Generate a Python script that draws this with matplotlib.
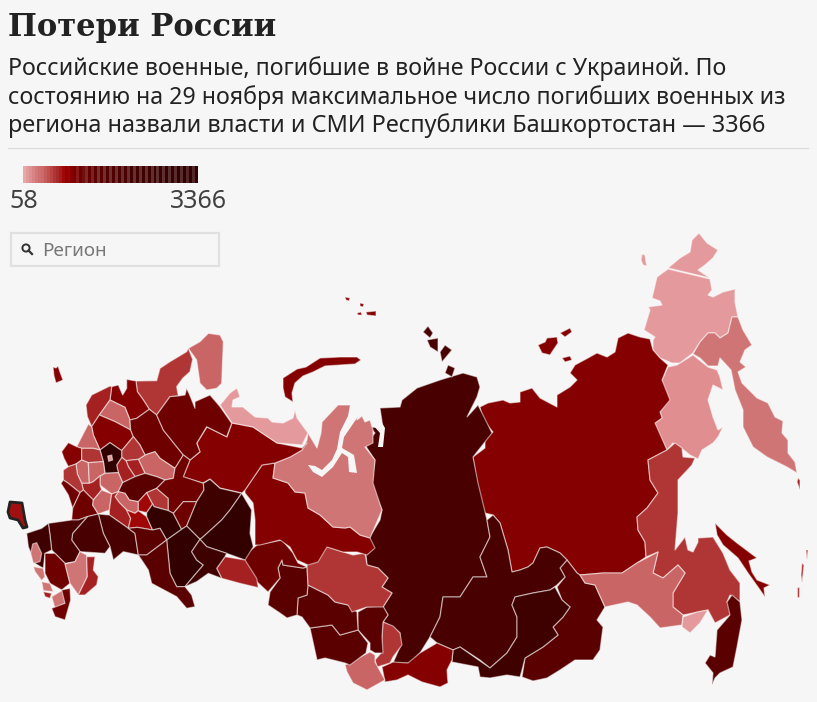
"""
plot.py - Russian military losses by region, choropleth drawn from hand-traced outlines.
Eastern outlines are in picture pixels. European ones were traced on a 3x crop whose
top sits at y=320, and are scaled back when drawn.
"""
import matplotlib
matplotlib.use("Agg")
import matplotlib.pyplot as plt
from matplotlib.patches import Rectangle, Circle

# ── Text ──────────────────────────────────────────────────────────────────────
TITLE = "Потери России"
SUBTITLE = [
    "Российские военные, погибшие в войне России с Украиной. По",
    "состоянию на 29 ноября максимальное число погибших военных из",
    "региона назвали власти и СМИ Республики Башкортостан — 3366",
]
LEGEND_MIN = "58"
LEGEND_MAX = "3366"
SEARCH_HINT = "Регион"

# ── Legend stripes, light to dark ─────────────────────────────────────────────
LEGEND_STRIPES = [
    "#e8a8a8", "#e29a9a", "#dd9090", "#d88484", "#d37878", "#cf7070", "#cb6a6a", "#c55c5c",
    "#c05050", "#b84444", "#b03636", "#a92a2a", "#a41c1c", "#a00808", "#8f0000", "#a00000",
    "#850000", "#7a0000", "#8a1818", "#700000", "#6f1010", "#802828", "#660000", "#782222",
    "#5f0000", "#743030", "#5a0000", "#703030", "#550000", "#6e3030", "#500000", "#6c3030",
    "#4c0000", "#6a2c2c", "#480000", "#682e2e", "#440000", "#663030", "#420000", "#643030",
    "#400000", "#623030", "#3c0000", "#603030", "#3a0000", "#5e3030", "#380000", "#5c3030",
    "#360000", "#5a3030", "#340000", "#582c2c", "#330000", "#562c2c", "#330000", "#542828",
    "#330000", "#522828", "#330000",
]

# ── Shades ────────────────────────────────────────────────────────────────────
S1 = "#e49a9c"; S2 = "#e08e90"; S3 = "#d07575"; S4 = "#c96565"; S5 = "#b03636"
S6 = "#a52020"; S6B = "#a00808"; S7 = "#850000"; S8 = "#6f0000"; S9 = "#5a0000"
S10 = "#480000"; S11 = "#3f0000"; S12 = "#330000"

# ── Far east (pixels) ─────────────────────────────────────────────────────────
CHUKOTKA_N = [(668,268),(680,258),(690,252),(692,240),(699,233),(707,243),(718,250),(713,258),(705,265),(698,270),(710,278)]
CHUKOTKA = [(710,279),(712,290),(708,295),(713,297),(723,292),(735,289),(735,302),(738,317),(732,317),(728,333),(720,338),(715,333),(708,333),(700,342),(693,353),(680,363),(672,363),(660,358),(653,350),(653,340),(655,337),(644,330),(650,310),(648,307),(662,305),(660,301),(652,298),(657,277),(668,269)]
WRANGEL = [(642,254),(645,255),(646,262),(647,266),(643,265),(641,260)]
KAMCHATKA = [(732,317),(738,317),(743,330),(752,345),(745,350),(740,362),(746,367),(738,372),(742,383),(757,398),(768,403),(775,417),(783,421),(782,433),(788,440),(788,453),(795,462),(797,473),(787,467),(767,457),(753,447),(743,427),(743,410),(735,390),(731,370),(720,358),(718,366),(708,366),(700,358),(693,354),(700,342),(708,333),(715,333),(720,338),(728,333)]
MAGADAN = [(693,355),(708,367),(717,370),(720,377),(723,390),(713,385),(708,400),(713,417),(718,430),(723,427),(718,437),(713,443),(702,450),(698,459),(690,455),(680,447),(673,443),(667,450),(662,440),(657,432),(655,423),(662,418),(660,412),(668,400),(663,387),(662,380),(668,367),(677,365)]
YAKUTIA = [(480,407),(488,403),(503,400),(510,403),(520,402),(520,392),(532,388),(540,398),(557,407),(557,395),(570,387),(577,380),(570,373),(575,365),(588,358),(597,353),(607,357),(615,352),(618,338),(628,333),(640,337),(650,339),(653,350),(660,358),(668,365),(662,380),(670,400),(660,412),(662,418),(655,423),(667,450),(648,460),(650,480),(658,493),(647,508),(637,517),(638,530),(645,542),(646,557),(637,563),(622,573),(603,573),(580,575),(577,573),(567,560),(560,553),(547,547),(540,548),(533,563),(528,567),(520,570),(512,572),(508,550),(500,523),(493,515),(485,513),(478,500),(477,483),(473,457),(485,448),(485,438),(493,432),(483,420)]
ZABAYKALSKY = [(567,560),(577,573),(580,575),(585,583),(595,585),(605,607),(597,620),(603,627),(600,650),(593,660),(575,660),(560,670),(547,678),(533,681),(522,677),(525,658),(543,647),(558,635),(553,627),(563,617),(570,607),(562,600),(557,587),(565,577),(560,568)]
AMUR = [(580,575),(603,573),(622,573),(637,563),(658,552),(653,573),(663,578),(678,565),(685,573),(673,593),(673,607),(683,615),(682,625),(660,628),(650,617),(637,605),(628,602),(605,607),(595,585),(585,583)]
KHABAROVSK = [(648,460),(667,450),(675,443),(682,448),(683,457),(695,458),(692,465),(678,480),(678,513),(675,550),(685,537),(688,550),(693,552),(698,542),(698,538),(713,537),(723,553),(730,570),(740,583),(740,602),(730,595),(727,602),(732,603),(730,615),(715,623),(708,610),(683,615),(673,607),(673,593),(685,573),(678,565),(663,578),(653,573),(658,552),(646,557),(645,542),(638,530),(637,517),(647,508),(658,493),(650,480)]
JEWISH_AO = [(683,617),(697,612),(708,610),(700,623),(690,633),(682,627)]
PRIMORYE = [(732,595),(740,602),(742,620),(737,647),(733,667),(720,673),(715,678),(712,685),(713,673),(705,663),(710,655),(715,657),(717,630),(730,615),(727,602)]
SAKHALIN = [(715,523),(719,527),(727,535),(737,543),(757,558),(749,561),(752,572),(757,580),(770,585),(764,588),(765,597),(758,587),(748,573),(738,558),(723,545),(717,535)]
KURIL_A = [(798,478),(800,480),(800,490),(797,482)]
KURIL_B = [(802,563),(804,565),(802,583),(801,575)]
KURIL_C = [(806,550),(808,550),(807,560)]
KURIL_D = [(797,587),(799,587),(799,597),(797,597)]
NSI_A = [(538,345),(545,342),(547,338),(557,337),(558,343),(550,355),(542,353)]
NSI_B = [(560,333),(570,328),(572,332),(565,337)]
NSI_C = [(562,358),(570,356),(572,360),(565,362)]

# ── Siberia (pixels) ──────────────────────────────────────────────────────────
KRASNOYARSK = [(380,408),(400,407),(402,400),(417,388),(440,380),(463,373),(477,377),(480,387),(477,397),(467,417),(478,405),(487,423),(492,433),(473,457),(478,483),(487,520),(490,537),(480,557),(487,577),(473,577),(460,597),(443,597),(440,617),(430,637),(420,653),(410,663),(393,663),(400,647),(400,633),(393,627),(383,622),(388,615),(383,607),(392,593),(382,587),(388,578),(378,568),(367,565),(366,555),(373,549),(368,540),(380,520),(382,510),(375,493),(372,483),(375,460),(365,445),(375,433),(370,427),(383,428)]
SEV_ZEMLYA_A = [(423,332),(428,326),(433,333),(430,338)]
SEV_ZEMLYA_B = [(427,340),(438,338),(438,352),(430,347)]
SEV_ZEMLYA_C = [(440,352),(445,345),(452,350),(442,362)]
SEV_ZEMLYA_D = [(445,373),(448,365),(455,368),(452,377)]
IRKUTSK = [(487,520),(493,515),(500,523),(508,550),(512,572),(520,570),(528,567),(533,563),(540,548),(547,547),(560,553),(567,560),(560,568),(565,577),(557,585),(550,590),(533,593),(515,597),(512,605),(517,617),(517,637),(507,653),(490,668),(480,660),(460,647),(453,650),(437,643),(430,637),(440,617),(443,597),(460,597),(473,577),(487,577),(480,557),(490,537)]
BURYATIA = [(515,597),(533,593),(550,590),(555,587),(562,600),(570,607),(563,617),(553,627),(558,635),(543,647),(525,658),(522,670),(520,677),(507,675),(490,678),(480,677),(478,667),(452,662),(453,650),(460,647),(490,668),(507,653),(517,637),(517,617),(512,605)]
TUVA = [(382,667),(393,662),(408,663),(420,653),(437,643),(453,650),(452,660),(447,670),(448,683),(440,687),(422,682),(408,675),(397,680),(385,682)]
KHAKASSIA = [(383,622),(393,626),(400,633),(402,645),(393,657),(390,663),(377,667),(375,660),(382,652),(382,637)]
ALTAI_REP = [(345,665),(370,652),(375,655),(375,662),(385,680),(367,690),(353,683),(347,672)]
KEMEROVO = [(358,612),(367,607),(383,606),(388,615),(383,622),(382,637),(383,653),(375,653),(370,650),(370,643),(358,630)]
ALTAI_KRAI = [(310,628),(332,625),(340,635),(358,630),(368,643),(366,653),(350,665),(345,663),(325,658),(317,660)]
NOVOSIBIRSK = [(308,585),(328,595),(335,602),(348,605),(357,612),(358,630),(340,635),(332,625),(310,628),(302,617),(297,615),(298,598),(307,595)]
OMSK = [(282,560),(283,565),(303,568),(307,567),(308,585),(307,595),(298,598),(297,615),(287,618),(280,613),(268,605),(270,592),(280,578),(278,568)]
TYUMEN = [(245,555),(257,545),(282,540),(293,553),(298,563),(307,567),(303,568),(283,565),(282,560),(278,568),(280,578),(268,592),(255,580),(242,560)]
TOMSK = [(325,546),(337,550),(353,555),(365,553),(367,565),(378,568),(388,578),(382,587),(392,593),(383,607),(367,607),(352,612),(348,605),(335,602),(328,595),(308,585),(307,565),(315,558)]
KHANTY_MANSI = [(245,490),(262,465),(275,463),(273,478),(288,483),(295,492),(305,493),(308,508),(320,515),(333,527),(345,528),(350,527),(360,535),(370,538),(375,548),(367,555),(357,552),(343,552),(327,547),(318,562),(308,565),(297,560),(290,547),(280,540),(260,545),(255,545),(255,520),(253,503),(245,493)]
YAMAL = [(275,463),(290,457),(302,450),(307,440),(308,433),(317,448),(321,433),(322,422),(338,405),(350,405),(358,410),(357,420),(362,416),(365,422),(370,420),(373,430),(373,443),(365,447),(375,460),(373,483),(382,510),(370,538),(360,535),(350,527),(345,528),(333,527),(320,515),(308,508),(305,493),(295,492),(288,483),(273,478)]
OB_GULF = [(350,405),(348,416),(340,432),(337,449),(332,460),(322,470),(315,466),(308,465),(313,472),(322,477),(333,467),(342,453),(348,457),(349,472),(357,473),(354,455),(342,448),(344,437),(357,418),(360,407)]
YENISEI_GULF = [(377,418),(382,423),(385,428),(383,447),(378,447),(380,433),(373,425)]

# ── North (pixels) ────────────────────────────────────────────────────────────
NOVAYA_ZEMLYA = [(283,378),(297,369),(306,367),(320,358),(340,357),(357,357),(361,360),(355,364),(340,365),(325,366),(313,372),(303,376),(295,383),(292,393),(293,402),(285,397),(283,388)]
FRANZ_A = [(357,313),(361,312),(362,315),(358,315)]
FRANZ_B = [(366,312),(376,311),(376,316),(367,315)]
FRANZ_C = [(345,297),(350,298),(349,301),(346,300)]
FRANZ_D = [(360,303),(364,304),(363,307),(360,306)]
KOMI = [(183,477),(190,460),(200,452),(197,443),(207,427),(227,437),(232,423),(253,427),(277,443),(302,448),(307,443),(302,450),(290,457),(275,463),(262,465),(245,490),(242,493),(220,488),(210,479),(203,483)]
NENETS = [(220,405),(230,393),(237,388),(240,397),(233,400),(232,407),(243,407),(255,417),(268,418),(272,422),(283,423),(293,418),(295,410),(297,418),(308,433),(302,445),(277,443),(253,427),(232,423)]
KALININGRAD = [(53,367),(56,368),(58,366),(60,372),(63,380),(56,383),(54,376)]
CRIMEA = [(10,502),(22,503),(25,520),(27,527),(23,528),(18,520),(10,518),(8,512)]

# ── European Russia (3x crop coordinates) ─────────────────────────────────────
MURMANSK = [(565,85),(600,65),(625,40),(660,45),(670,65),(665,190),(650,205),(620,210),(600,190),(590,120)]
KARELIA = [(408,183),(470,182),(480,145),(510,125),(560,95),(565,85),(578,118),(570,155),(548,175),(530,200),(535,228),(510,230),(470,285),(448,268),(430,240),(412,215)]
LENINGRAD = [(335,200),(355,195),(368,225),(380,205),(380,178),(408,183),(412,215),(430,240),(448,268),(410,295),(390,300),(375,262),(330,240)]
PSKOV = [(258,255),(275,225),(330,198),(335,200),(330,240),(298,285),(275,320),(262,290)]
NOVGOROD = [(298,285),(330,240),(375,262),(390,300),(392,330),(345,305)]
TVER = [(275,320),(298,285),(345,305),(392,330),(400,350),(365,392),(330,368),(300,390),(280,345)]
SMOLENSK = [(230,380),(265,312),(275,320),(280,345),(300,390),(280,385),(245,385)]
BELARUS_EDGE = [(185,395),(205,368),(230,380),(245,385),(245,420),(228,432),(205,440),(192,415)]
VOLOGDA = [(390,300),(410,295),(448,268),(470,285),(490,330),(550,405),(525,445),(480,415),(465,395),(435,405),(420,375),(400,350),(392,330)]
ARKHANGELSK = [(470,285),(510,230),(535,228),(555,225),(560,205),(572,232),(585,265),(585,245),(630,225),(660,260),(695,310),(680,350),(620,320),(590,370),(600,395),(570,420),(550,405),(490,330)]
KOSTROMA = [(415,418),(435,405),(465,395),(480,415),(525,445),(520,475),(495,480),(470,470),(435,460)]
YAROSLAVL = [(365,392),(400,350),(420,375),(435,405),(415,418),(378,422),(365,412)]
IVANOVO = [(378,422),(415,418),(435,460),(405,470),(385,440)]
VLADIMIR = [(350,435),(365,412),(378,422),(385,440),(405,470),(368,488),(355,458)]
MOSCOW = [(300,390),(330,368),(365,392),(365,412),(350,435),(355,458),(315,460),(310,425)]
MOSCOW_CITY = [(323,408),(335,405),(338,420),(326,424)]
KALUGA = [(245,385),(280,385),(300,390),(310,425),(265,428),(245,420)]
OREL = [(228,432),(245,420),(265,428),(268,490),(245,490),(232,462)]
LIPETSK = [(265,428),(310,425),(315,460),(300,468),(280,485),(268,490)]
RYAZAN = [(300,468),(315,460),(355,458),(368,488),(355,515),(335,522),(300,495)]
TULA = [(245,490),(268,490),(280,485),(300,468),(300,495),(305,510),(280,540),(250,510)]
BRYANSK = [(190,450),(205,440),(228,432),(232,462),(245,490),(250,510),(240,518),(205,490),(190,480)]
KURSK = [(183,490),(190,480),(205,490),(240,518),(218,565),(205,525)]
VORONEZH = [(218,565),(240,518),(250,510),(280,540),(278,555),(295,582),(262,590),(235,600),(215,600)]
TAMBOV = [(280,540),(305,510),(335,522),(328,570),(295,582),(278,555)]
NIZHNY = [(368,488),(405,470),(435,460),(470,470),(495,480),(470,505),(440,518),(415,545),(388,540),(375,520),(355,515)]
PENZA = [(345,530),(355,515),(375,520),(388,540),(415,545),(415,572),(405,580),(380,570),(358,548)]
ULYANOVSK = [(335,522),(355,515),(345,530),(358,548),(380,570),(392,595),(385,625),(328,585),(328,570)]
SAMARA = [(392,595),(380,570),(405,580),(415,572),(440,590),(458,630),(412,622),(385,625)]
CHUVASHIA = [(415,545),(440,518),(458,552),(440,578),(415,572)]
MARI_EL = [(440,518),(470,505),(505,535),(505,572),(462,560),(458,552)]
KIROV = [(495,480),(520,475),(525,445),(550,405),(570,420),(550,470),(610,490),(612,510),(590,545),(550,545),(520,580),(505,572),(505,535),(470,505)]
TATARSTAN = [(440,578),(458,552),(462,560),(505,572),(520,580),(545,628),(500,660),(480,625),(458,630),(440,590)]
UDMURTIA = [(520,580),(550,545),(590,545),(560,618),(545,628)]
PERM = [(610,490),(630,478),(660,505),(725,520),(690,570),(665,600),(610,650),(600,658),(560,618),(590,545),(612,510)]
SVERDLOVSK = [(725,520),(755,570),(750,640),(760,680),(735,720),(680,700),(620,680),(600,658),(610,650),(665,600),(690,570)]
KURGAN = [(675,710),(735,720),(770,775),(775,803),(720,790),(665,775),(650,745)]
BASHKORTOSTAN = [(500,660),(545,628),(560,618),(600,658),(575,695),(590,720),(610,735),(580,770),(555,800),(530,800),(510,760)]
CHELYABINSK = [(600,658),(620,680),(680,700),(675,710),(650,745),(665,775),(625,760),(590,785),(555,800),(580,770),(610,735),(590,720),(575,695)]
SARATOV = [(295,582),(328,585),(385,625),(405,640),(415,705),(370,695),(340,720),(330,680),(310,640)]
SAMARA_S = [(405,640),(385,625),(412,622),(458,630),(480,625),(500,660),(440,705),(415,705)]
ORENBURG = [(500,660),(510,760),(530,800),(555,800),(575,825),(585,860),(560,865),(530,830),(455,790),(445,750),(415,705),(440,705)]
ROSTOV = [(215,660),(218,640),(262,590),(295,582),(310,640),(330,680),(315,700),(240,695)]
LUHANSK = [(145,610),(215,600),(235,600),(262,590),(218,640),(215,660),(240,695),(225,725),(195,730),(165,700),(155,690),(150,645)]
DONETSK = [(80,640),(125,625),(145,610),(150,645),(155,690),(135,700),(130,745),(105,730),(85,680)]
AZOV_SPOT = [(98,672),(110,668),(125,700),(120,725),(100,730),(92,700)]
STAVROPOL = [(135,700),(165,700),(195,730),(210,790),(185,810),(150,790),(135,760)]
KALMYKIA = [(195,732),(225,725),(240,695),(260,705),(262,770),(235,825),(210,790)]
ASTRAKHAN = [(260,710),(285,710),(280,750),(295,770),(290,795),(255,825),(235,825),(262,770)]
KRASNODAR_S = [(100,740),(130,745),(135,770),(125,782),(105,755)]
KBR = [(125,785),(150,790),(160,815),(130,812)]
OSSETIA = [(130,815),(155,820),(150,835),(135,830)]
CHECHNYA = [(155,830),(185,812),(195,815),(195,850),(165,865)]
DAGESTAN = [(185,810),(210,805),(212,840),(195,900),(165,890),(155,865),(195,850)]

PIXEL_SHAPES = [
    CHUKOTKA_N, CHUKOTKA, WRANGEL, KAMCHATKA, MAGADAN, YAKUTIA, ZABAYKALSKY, KHABAROVSK, AMUR,
    JEWISH_AO, PRIMORYE, SAKHALIN, KURIL_A, KURIL_B, KURIL_C, KURIL_D, NSI_A, NSI_B, NSI_C,
    KRASNOYARSK, SEV_ZEMLYA_A, SEV_ZEMLYA_B, SEV_ZEMLYA_C, SEV_ZEMLYA_D, IRKUTSK, BURYATIA, TUVA,
    KHAKASSIA, ALTAI_REP, KEMEROVO, ALTAI_KRAI, NOVOSIBIRSK, OMSK, TYUMEN, TOMSK, KHANTY_MANSI, YAMAL,
    NOVAYA_ZEMLYA, FRANZ_A, FRANZ_B, FRANZ_C, FRANZ_D, KOMI, NENETS, KALININGRAD,
]
PIXEL_SHADES = [
    S1, S1, S1, S3, S2, S7, S9, S5, S4,
    S1, S9, S7, S6, S6, S6, S6, S7, S7, S7,
    S10, S10, S10, S10, S10, S10, S11, S7,
    S5, S4, S9, S9, S9, S9, S8, S5, S7, S3,
    S7, S7, S7, S7, S7, S7, S1, S7,
]
CROP_SHAPES = [
    MURMANSK, KARELIA, LENINGRAD, PSKOV, NOVGOROD, TVER, SMOLENSK, BELARUS_EDGE, VOLOGDA, ARKHANGELSK,
    KOSTROMA, YAROSLAVL, IVANOVO, VLADIMIR, MOSCOW, MOSCOW_CITY, KALUGA, OREL, LIPETSK, RYAZAN, TULA,
    BRYANSK, KURSK, VORONEZH, TAMBOV, NIZHNY, PENZA, ULYANOVSK, SAMARA, CHUVASHIA, MARI_EL, KIROV,
    TATARSTAN, UDMURTIA, PERM, SVERDLOVSK, KURGAN, BASHKORTOSTAN, CHELYABINSK, SARATOV, SAMARA_S, ORENBURG,
    ROSTOV, LUHANSK, DONETSK, AZOV_SPOT, STAVROPOL, KALMYKIA, ASTRAKHAN, KRASNODAR_S, KBR, OSSETIA,
    CHECHNYA, DAGESTAN,
]
CROP_SHADES = [
    S4, S5, S7, S6, S4, S7, S4, S7, S8, S8,
    S4, S5, S6, S6, S12, S1, S5, S4, S4, S4, S6,
    S5, S8, S8, S4, S9, S4, S6, S6B, S6B, S5, S8,
    S12, S8, S11, S12, S6, S12, S11, S10, S9, S9,
    S10, S10, S11, S3, S8, S3, S6, S3, S3, S6,
    S3, S8,
]

BG = "#f6f6f6"


def crop_to_px(shape):
    return [(x / 3, 320 + y / 3) for x, y in shape]


fig = plt.figure(figsize=(8.17, 7.02), dpi=100, facecolor=BG)
ax = fig.add_axes([0, 0, 1, 1])
ax.set_xlim(0, 817)
ax.set_ylim(702, 0)
ax.axis("off")

# ── Header ────────────────────────────────────────────────────────────────────
ax.text(8, 36, TITLE, family="DejaVu Serif", weight="bold", fontsize=22.1, color="#222222")
for line, y, size in zip(SUBTITLE, [75, 104, 132], [16.7, 16.7, 16.9]):
    ax.text(8, y, line, family="Noto Sans", fontsize=size, color="#222222")
ax.plot([8, 808], [147.5, 147.5], color="#dddddd", lw=1)

# ── Legend ────────────────────────────────────────────────────────────────────
stripe_w = 175 / len(LEGEND_STRIPES)
for i, c in enumerate(LEGEND_STRIPES):
    ax.add_patch(Rectangle((23 + i * stripe_w, 166), stripe_w + 0.2, 17, fc=c, ec="none"))
ax.text(9, 208, LEGEND_MIN, family="Noto Sans", fontsize=18, color="#404040")
ax.text(227, 208, LEGEND_MAX, family="Noto Sans", fontsize=18, color="#404040", ha="right")

# ── Search box ────────────────────────────────────────────────────────────────
ax.add_patch(Rectangle((11, 233), 208, 33, fc=BG, ec="#e0e0e0", lw=1.6))
ax.add_patch(Circle((26, 248), 3.6, fc="none", ec="#333333", lw=1.4))
ax.plot([28.5, 32], [250.5, 254], color="#333333", lw=1.6)
ax.text(42, 255.5, SEARCH_HINT, family="Noto Sans", fontsize=13.5, color="#777777")

# ── Map ───────────────────────────────────────────────────────────────────────
for shape, shade in zip(PIXEL_SHAPES, PIXEL_SHADES):
    xs, ys = zip(*shape)
    ax.fill(xs, ys, fc=shade, ec=(1, 1, 1, 0.5), lw=0.9, joinstyle="round")
for shape, shade in zip(CROP_SHAPES, CROP_SHADES):
    xs, ys = zip(*crop_to_px(shape))
    ax.fill(xs, ys, fc=shade, ec=(1, 1, 1, 0.5), lw=0.9, joinstyle="round")

for water in [OB_GULF, YENISEI_GULF]:
    xs, ys = zip(*water)
    ax.fill(xs, ys, fc=BG, ec="none")
xs, ys = zip(*CRIMEA)
ax.fill(xs, ys, fc="#a01010", ec="#222222", lw=2, joinstyle="round")

fig.savefig("out.png", dpi=100, facecolor=BG)
